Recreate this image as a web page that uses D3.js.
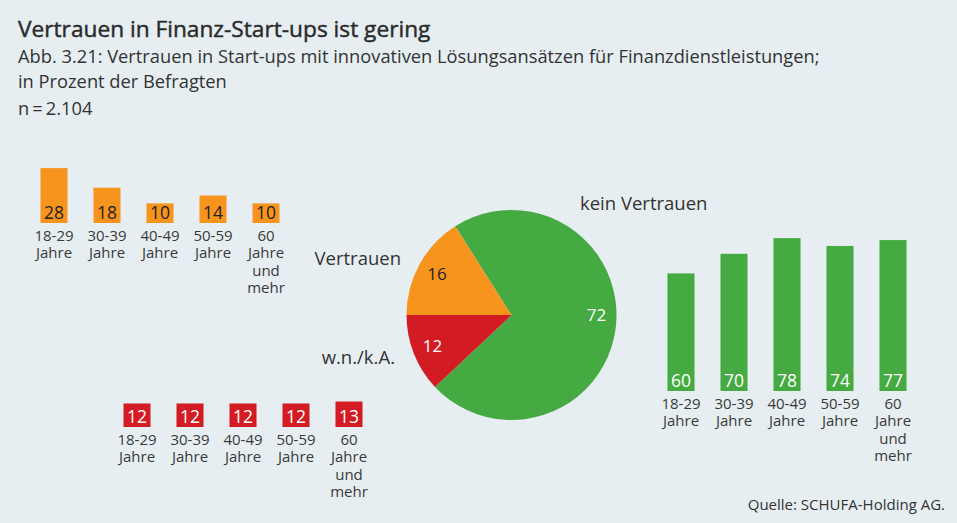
<!DOCTYPE html>
<html lang="de">
<head>
<meta charset="utf-8">
<script src="https://cdn.jsdelivr.net/npm/d3@7"></script>
<style>
  html, body { margin: 0; padding: 0; background: #e6eef1; }
  svg { display: block; }
  text { font-family: "Open Sans", "Noto Sans", sans-serif; fill: #333; }
</style>
</head>
<body>
<svg id="chart" width="957" height="523"></svg>
<script>
// Age groups (shared by all three small bar charts)
const ageGroups = [
  ["18-29", "Jahre"],
  ["30-39", "Jahre"],
  ["40-49", "Jahre"],
  ["50-59", "Jahre"],
  ["60", "Jahre", "und", "mehr"]
];

// Overall answers (pie)
const pieLabels = ["kein Vertrauen", "w.n./k.A.", "Vertrauen"];
const pieValues = [72, 12, 16];

// Answers per age group
const trustValues   = [28, 18, 10, 14, 10];
const noTrustValues = [60, 70, 78, 74, 77];
const dkValues      = [12, 12, 12, 12, 13];

const COLORS = { trust: "#f7941d", noTrust: "#46aa42", dk: "#d21b22" };

const svg = d3.select("#chart");
const W = 957, H = 523;

svg.append("rect").attr("width", W).attr("height", H).attr("fill", "#e6eef1");

// Header (medium weight title: regular face with a hairline stroke)
svg.append("text").attr("x", 18).attr("y", 37)
  .style("font-size", "22.7px").style("fill", "#2b2b2b")
  .style("stroke", "#2b2b2b").style("stroke-width", "0.45px")
  .text("Vertrauen in Finanz-Start-ups ist gering");
svg.append("text").attr("x", 18).attr("y", 63).style("font-size", "18.3px")
  .text("Abb. 3.21: Vertrauen in Start-ups mit innovativen Lösungsansätzen für Finanzdienstleistungen;");
svg.append("text").attr("x", 18).attr("y", 88).style("font-size", "18.3px")
  .text("in Prozent der Befragten");
svg.append("text").attr("x", 18).attr("y", 115).style("font-size", "18.3px")
  .text("n\u2009=\u20092.104");

// Shared vertical scale for all small bar charts (percent -> pixels)
const h = d3.scaleLinear().domain([0, 100]).range([0, 196]);

function barGroup({ x0, baseline, values, color, labelColor }) {
  const x = d3.scaleBand()
    .domain(d3.range(values.length))
    .range([x0, x0 + 53 * values.length])
    .paddingInner(0.49).paddingOuter(0.245);
  const g = svg.append("g");
  const bw = x.bandwidth();

  g.selectAll("rect").data(values).join("rect")
    .attr("x", (d, i) => x(i))
    .attr("y", d => baseline - h(d))
    .attr("width", bw)
    .attr("height", d => h(d))
    .attr("fill", color);

  g.selectAll("text.val").data(values).join("text")
    .attr("class", "val")
    .attr("x", (d, i) => x(i) + bw / 2)
    .attr("y", baseline - 4.5)
    .attr("text-anchor", "middle")
    .style("font-size", "17.5px").style("font-weight", 500)
    .style("fill", labelColor)
    .text(d => d);

  const cat = g.selectAll("text.cat").data(ageGroups).join("text")
    .attr("class", "cat")
    .attr("text-anchor", "middle")
    .style("font-size", "15px")
    .style("fill", "#3a3a3a");
  cat.selectAll("tspan").data((d, i) => d.map(s => ({ s, i }))).join("tspan")
    .attr("x", d => x(d.i) + bw / 2)
    .attr("y", (d, j) => baseline + 18 + j * 17.3)
    .text(d => d.s);
}

// Trust by age (top left)
barGroup({ x0: 27.5, baseline: 223, values: trustValues, color: COLORS.trust, labelColor: "#222" });
// Don't know / no answer by age (bottom left)
barGroup({ x0: 110.5, baseline: 427, values: dkValues, color: COLORS.dk, labelColor: "#fff" });
// No trust by age (right)
barGroup({ x0: 654.5, baseline: 391, values: noTrustValues, color: COLORS.noTrust, labelColor: "#fff" });

// Pie
const cx = 511.5, cy = 315, r = 105;
const pie = d3.pie().sort(null)
  .startAngle(-0.09 * 2 * Math.PI)
  .endAngle(0.91 * 2 * Math.PI);
const arcs = pie(pieValues);
const arc = d3.arc().innerRadius(0).outerRadius(r);
const sliceColors = [COLORS.noTrust, COLORS.dk, COLORS.trust];
const sliceTextColors = ["#fff", "#fff", "#222"];

const pg = svg.append("g").attr("transform", `translate(${cx},${cy})`);
pg.selectAll("path").data(arcs).join("path")
  .attr("d", arc)
  .attr("fill", (d, i) => sliceColors[i]);

// Slice value labels: small slices on their bisector, the large slice at 3 o'clock
const labelAngle = d => (d.value > 50 ? Math.PI / 2 : (d.startAngle + d.endAngle) / 2);
pg.selectAll("text").data(arcs).join("text")
  .attr("transform", d => {
    const a = labelAngle(d), rr = 85;
    return `translate(${Math.sin(a) * rr},${-Math.cos(a) * rr})`;
  })
  .attr("dy", "0.36em")
  .attr("text-anchor", "middle")
  .style("font-size", "17px")
  .style("fill", (d, i) => sliceTextColors[i])
  .text(d => d.value);

// Category labels next to the pie
const pieLabelPos = [
  { x: 580, y: 210, anchor: "start" },
  { x: 395, y: 364, anchor: "end" },
  { x: 401, y: 265, anchor: "end" }
];
svg.selectAll("text.pielab").data(pieLabels).join("text")
  .attr("class", "pielab")
  .attr("x", (d, i) => pieLabelPos[i].x)
  .attr("y", (d, i) => pieLabelPos[i].y)
  .attr("text-anchor", (d, i) => pieLabelPos[i].anchor)
  .style("font-size", "18.5px").style("font-weight", 500)
  .text(d => d);

// Source
svg.append("text").attr("x", 945).attr("y", 510)
  .attr("text-anchor", "end").style("font-size", "15px")
  .text("Quelle: SCHUFA-Holding AG.");
</script>
</body>
</html>
